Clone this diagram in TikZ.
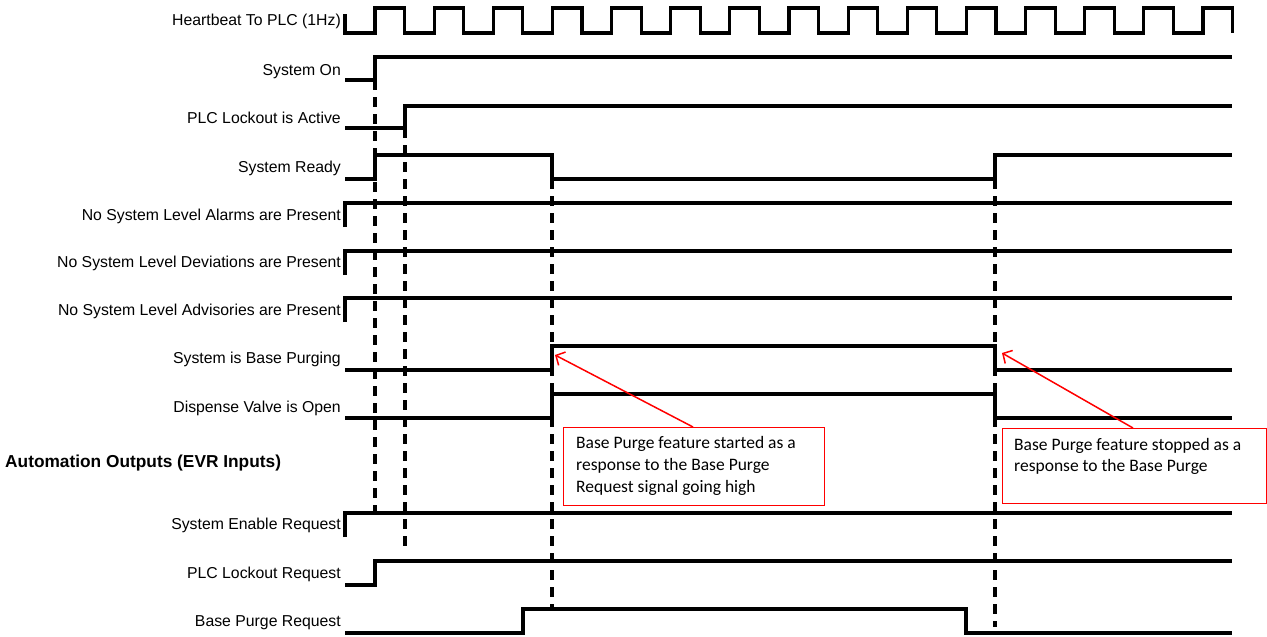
\documentclass[tikz,border=0pt]{standalone}
\usepackage{fontspec}
\setmainfont{Liberation Sans}
\newfontfamily\calfont{Carlito}
\usetikzlibrary{arrows.meta}
\begin{document}
\begin{tikzpicture}[x=1pt,y=-1pt,
  sig/.style={line width=3.2pt, draw=black},
  guide/.style={line width=3.2pt, draw=black, dash pattern=on 10pt off 7pt},
  lbl/.style={anchor=base east, inner sep=0pt, font=\fontsize{15.8}{18}\selectfont},
  hdr/.style={anchor=base west, inner sep=0pt, font=\fontsize{17.3}{20}\selectfont\bfseries},
  callbox/.style={draw=red, line width=1.3pt, fill=white, anchor=north west, inner sep=0pt},
  calltext/.style={anchor=base west, inner sep=0pt, align=left, font=\fontsize{17.5}{21.6}\selectfont\calfont},
  callarrow/.style={draw=red, line width=1.5pt, -{Straight Barb[length=7pt,width=15pt]}}]
\useasboundingbox (0,0) rectangle (1267,637);

% labels
\node[lbl] (l1) at (341,25.5) {Heartbeat To PLC (1Hz)};
\node[lbl] (l2) at (341,75.5) {System On};
\node[lbl] (l3) at (341,123.5) {PLC Lockout is Active};
\node[lbl] (l4) at (341,172.5) {System Ready};
\node[lbl] (l5) at (341,220.5) {No System Level Alarms are Present};
\node[lbl] (l6) at (341,267.5) {No System Level Deviations are Present};
\node[lbl] (l7) at (341,315.5) {No System Level Advisories are Present};
\node[lbl] (l8) at (341,363.5) {System is Base Purging};
\node[lbl] (l9) at (341,412.5) {Dispense Valve is Open};
\node[hdr] (h1) at (5,467) {Automation Outputs (EVR Inputs)};
\node[lbl] (l10) at (341,529.5) {System Enable Request};
\node[lbl] (l11) at (341,578.5) {PLC Lockout Request};
\node[lbl] (l12) at (341,626.5) {Base Purge Request};

% dashed guide lines
\draw[guide] (375,80) -- (375,513);
\draw[guide] (405,128) -- (405,553);
\draw[guide] (552,179) -- (552,609);
\draw[guide] (995,179) -- (995,627);

% heartbeat
\draw[sig] (345,14) -- (345,33)
  \foreach \k in {0,...,14}{ -- ({375+59.14*\k},33) -- ({375+59.14*\k},8) -- ({404.57+59.14*\k},8) -- ({404.57+59.14*\k},33)};

% signals
\draw[sig] (345,80) -- (375,80) -- (375,57) -- (1232,57);
\draw[sig] (345,128) -- (405,128) -- (405,106) -- (1232,106);
\draw[sig] (345,179) -- (375,179) -- (375,155) -- (552,155) -- (552,179) -- (995,179) -- (995,155) -- (1232,155);
\draw[sig] (345,227) -- (345,203) -- (1232,203);
\draw[sig] (345,275) -- (345,251) -- (1232,251);
\draw[sig] (345,322) -- (345,298) -- (1232,298);
\draw[sig] (345,370) -- (552,370) -- (552,346) -- (995,346) -- (995,370) -- (1232,370);
\draw[sig] (345,418) -- (552,418) -- (552,394) -- (995,394) -- (995,418) -- (1232,418);
\draw[sig] (345,537) -- (345,513) -- (1232,513);
\draw[sig] (345,585) -- (375,585) -- (375,561) -- (1232,561);
\draw[sig] (345,633) -- (523,633) -- (523,609) -- (966,609) -- (966,633) -- (1232,633);

% callouts
\node[callbox, minimum width=261pt, minimum height=78pt] (c1) at (563,427) {};
\node[calltext] (t1) at (576,492) {Base Purge feature started as a\\response to the Base Purge\\Request signal going high};
\node[callbox, minimum width=264pt, minimum height=75pt] (c2) at (1002,428) {};
\node[calltext] (t2) at (1014,471.6) {Base Purge feature stopped as a\\response to the Base Purge};

\coordinate (tip1) at (555,355);
\coordinate (tip2) at (1002,353);
\coordinate (s1) at (693,427);
\coordinate (s2) at (1133,428);
\draw[callarrow] (s1) -- (tip1);
\draw[callarrow] (s2) -- (tip2);
\end{tikzpicture}
\end{document}
